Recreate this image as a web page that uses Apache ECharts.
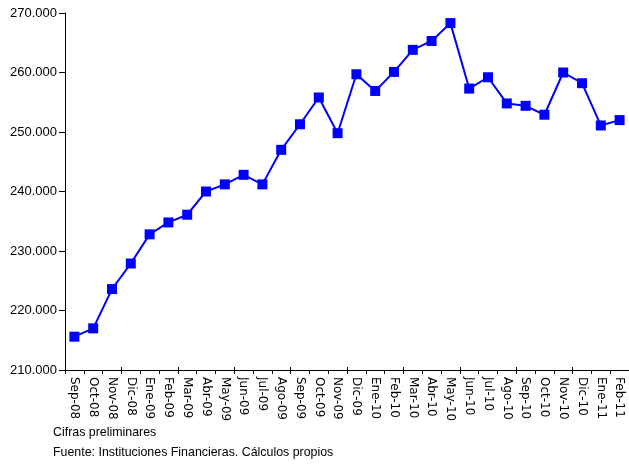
<!DOCTYPE html>
<html>
<head>
<meta charset="utf-8">
<script src="https://cdn.jsdelivr.net/npm/echarts@6/dist/echarts.min.js"></script>
<style>
html,body{margin:0;padding:0;background:#fff;}
#chart{width:629px;height:466px;}
</style>
</head>
<body>
<div id="chart"></div>
<script>
const categories = ["Sep-08","Oct-08","Nov-08","Dic-08","Ene-09","Feb-09","Mar-09","Abr-09","May-09","Jun-09","Jul-09","Ago-09","Sep-09","Oct-09","Nov-09","Dic-09","Ene-10","Feb-10","Mar-10","Abr-10","May-10","Jun-10","Jul-10","Ago-10","Sep-10","Oct-10","Nov-10","Dic-10","Ene-11","Feb-11"];
const values = [215600,217000,223600,227900,232800,234800,236100,240000,241200,242800,241200,247000,251300,255800,249800,259700,256900,260100,263800,265300,268300,257300,259200,254800,254400,252900,260000,258200,251100,252000];
const yMin = 210000, yMax = 270000, yStep = 10000;
const notes = ["Cifras preliminares", "Fuente: Instituciones Financieras. Cálculos propios"];

function fmt(v){
  return String(Math.round(v)).replace(/\B(?=(\d{3})+(?!\d))/g, ".");
}

const chart = echarts.init(document.getElementById('chart'), null, {renderer:'canvas'});
chart.setOption({
  animation:false,
  backgroundColor:'#fff',
  grid:{left:65, right:-3, top:13, bottom:96, containLabel:false},
  xAxis:[{
    type:'category', data:categories, boundaryGap:true,
    axisLine:{lineStyle:{color:'#000', width:1}},
    axisTick:{show:true, length:4, lineStyle:{color:'#000'}},
    axisLabel:{rotate:-90, color:'#000', fontFamily:'DejaVu Sans', fontSize:12, margin:7, interval:0}
  },{
    type:'category', data:categories, boundaryGap:true, position:'bottom',
    axisLine:{show:false},
    axisTick:{show:true, inside:true, length:3, lineStyle:{color:'#000'}},
    axisLabel:{show:false}
  }],
  yAxis:{
    type:'value', min:yMin, max:yMax, interval:yStep,
    axisLine:{show:true, lineStyle:{color:'#000', width:1}},
    axisTick:{show:true, length:6, lineStyle:{color:'#000'}},
    splitLine:{show:false},
    axisLabel:{color:'#000', fontFamily:'Liberation Sans', fontSize:13, margin:8, formatter:fmt}
  },
  series:[{
    type:'line', data:values, xAxisIndex:0,
    symbol:'rect', symbolSize:10,
    lineStyle:{color:'#0000ff', width:2},
    itemStyle:{color:'#0000ff'}
  }],
  graphic:[
    {type:'text', left:53, top:427, style:{text:notes[0], font:'12.4px "Liberation Sans"', fill:'#000'}},
    {type:'text', left:53, top:447, style:{text:notes[1], font:'12.4px "Liberation Sans"', fill:'#000'}}
  ]
});
</script>
</body>
</html>
